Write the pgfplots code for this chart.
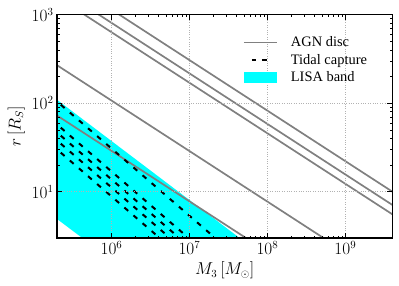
\documentclass[border=0pt]{standalone}
\usepackage{fontspec}
\setmainfont{Liberation Serif}
\usepackage{pgfplots}
\pgfplotsset{compat=1.18}
\definecolor{lisa}{RGB}{0,255,255}
\definecolor{agn}{RGB}{128,128,128}
\begin{document}
\begin{tikzpicture}
\begin{axis}[
 scale only axis, width=335.3bp, height=223.3bp,
 xmode=log, ymode=log,
 xmin=2e5, xmax=4e9, ymin=3, ymax=1000,
 xtick={1e6,1e7,1e8,1e9}, ytick={10,100,1000},
 grid=major, major grid style={dotted, gray!60, line width=0.8bp},
 tick align=inside,
 major tick length=5bp, minor tick length=2.5bp,
 every tick/.style={black, line width=0.6bp},
 axis line style={line width=1.2bp},
 tick label style={font=\fontsize{16}{18}\selectfont},
 label style={font=\fontsize{16}{18}\selectfont},
 xlabel={$M_3\,[M_\odot]$}, ylabel={$r\,[R_S]$},
 axis on top,
 legend style={draw=none, fill=none, font=\fontsize{14.5}{17}\selectfont, at={(axis description cs:0.94,0.92)}, anchor=north east, row sep=2bp},
 legend cell align=left,
]
% LISA band
\addplot[fill=lisa, draw=none, forget plot] coordinates {(1e5,173.6) (1e10,0.0806) (1e10,0.003737) (1e5,7.8) (1e5,173.6)};
% AGN disc lines
\addplot[agn, line width=1.7bp, forget plot] coordinates {(1e5,2361) (1e10,3.297)};
\addplot[agn, line width=1.7bp, forget plot] coordinates {(1e5,3013) (1e10,4.207)};
\addplot[agn, line width=1.7bp, forget plot] coordinates {(1e5,4256) (1e10,5.943)};
\addplot[agn, line width=1.7bp, forget plot] coordinates {(1e5,399.2) (1e10,0.5575)};
\addplot[agn, line width=1.7bp, forget plot] coordinates {(1e5,107.9) (1e10,0.1507)};
% Tidal capture lines
\addplot[black, line width=2bp, dash pattern=on 5bp off 7bp, forget plot] coordinates {(1e5,177.2) (1e9,0.1616)};
\addplot[black, line width=2bp, dash pattern=on 5bp off 7bp, forget plot] coordinates {(1e5,97.5) (1e9,0.0889)};
\addplot[black, line width=2bp, dash pattern=on 5bp off 7bp, forget plot] coordinates {(1e5,79.2) (1e9,0.0723)};
\addplot[black, line width=2bp, dash pattern=on 5bp off 7bp, forget plot] coordinates {(1e5,64.3) (1e9,0.0586)};
\addplot[black, line width=2bp, dash pattern=on 5bp off 7bp, forget plot] coordinates {(1e5,50.9) (1e9,0.0464)};
% legend
\addlegendimage{legend image code/.code={\path[draw=none,fill=none] (0bp,-5.5bp) rectangle (45bp,5.5bp);\draw[agn, line width=1.7bp] (0bp,0bp) -- (33bp,0bp);}}
\addlegendentry{AGN disc}
\addlegendimage{legend image code/.code={\path[draw=none,fill=none] (0bp,-5.5bp) rectangle (45bp,5.5bp);\draw[black, line width=2bp, solid] (8bp,0bp) -- (12bp,0bp) (18bp,0bp) -- (23bp,0bp);}}
\addlegendentry{Tidal capture}
\addlegendimage{legend image code/.code={\path[draw=none,fill=none] (0bp,-5.5bp) rectangle (45bp,5.5bp);\fill[lisa, draw=none] (0bp,-5.5bp) rectangle (33bp,5.5bp);}}
\addlegendentry{LISA band}
\end{axis}
\path (current axis.south west) ++(-57bp,-48bp) rectangle ++(399bp,286bp);
\end{tikzpicture}
\end{document}
